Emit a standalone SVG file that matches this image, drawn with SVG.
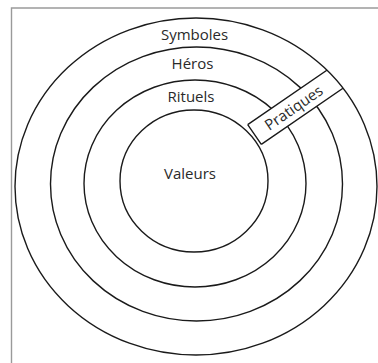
<svg xmlns="http://www.w3.org/2000/svg" width="378" height="363" viewBox="0 0 378 363">
<style>
.ring{fill:none;stroke:#1a1a1a;stroke-width:1.4}
.lbl{font-family:"Open Sans","Noto Sans",sans-serif;font-size:15px;fill:#2a2a2a;text-anchor:middle}
.band{stroke:#1a1a1a;stroke-width:1.4;fill:none}
</style>
<defs>
<clipPath id="outerClip" clipPathUnits="userSpaceOnUse">
<ellipse cx="196" cy="186.5" rx="181" ry="168.5"/>
</clipPath>
</defs>
<rect width="378" height="363" fill="#fff"/>
<path d="M11.5,363 V8 H378" fill="none" stroke="#9a9a9a" stroke-width="1.4"/>
<g id="valeurs">
<ellipse class="ring" cx="194" cy="181" rx="74" ry="71"/>
<text class="lbl" x="190" y="179">Valeurs</text>
</g>
<g id="rituels">
<ellipse class="ring" cx="195" cy="183.5" rx="111" ry="103.5"/>
<text class="lbl" x="191" y="102">Rituels</text>
</g>
<g id="heros">
<ellipse class="ring" cx="196.5" cy="184" rx="146" ry="137"/>
<text class="lbl" x="192.5" y="68.5">Héros</text>
</g>
<g id="pratiques" clip-path="url(#outerClip)">
<g transform="translate(254.5,134.5) rotate(-34.5)">
<rect x="0" y="-12" width="115" height="24" fill="#fff"/>
<path class="band" d="M0,-12 H115 M0,12 H115 M0,-12 V12"/>
<text class="lbl" x="47.5" y="5.5">Pratiques</text>
</g>
</g>
<g id="symboles">
<ellipse class="ring" cx="196" cy="186.5" rx="181" ry="168.5"/>
<text class="lbl" x="194.5" y="39.5">Symboles</text>
</g>
</svg>
